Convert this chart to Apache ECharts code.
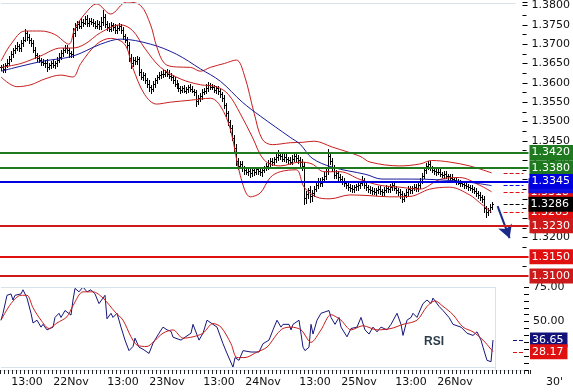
<!DOCTYPE html>
<html><head><meta charset="utf-8">
<script src="https://cdn.jsdelivr.net/npm/echarts@6/dist/echarts.min.js"></script>
<style>html,body{margin:0;padding:0;background:#fff}#c{width:573px;height:392px}</style>
</head><body><div id="c"></div>
<script>
// ---- time axis (30-minute bars) ----
const startDay = 21, startMinute = 390, barMinutes = 30, categoryCount = 265;
const xTickLabels = {'21 13:00':'13:00','22 00:00':'22Nov','22 13:00':'13:00','23 00:00':'23Nov','23 13:00':'13:00','24 00:00':'24Nov','24 13:00':'13:00','25 00:00':'25Nov','25 13:00':'13:00','26 00:00':'26Nov'};
const categories = [];
for (let i = 0; i < categoryCount; i++) {
  const m = startMinute + i * barMinutes;
  const d = startDay + Math.floor(m / 1440), hm = m % 1440;
  categories.push(d + ' ' + String(Math.floor(hm / 60)).padStart(2, '0') + ':' + String(hm % 60).padStart(2, '0'));
}
// ---- price bars: closes in pips above 1.3000 ----
const closePips = [640,636,645,652,662,675,684,690,696,690,702,712,728,718,710,702,685,672,664,660,
654,650,652,642,646,650,646,652,660,668,678,686,690,684,676,674,728,745,752,748,
758,756,764,754,760,758,756,748,752,746,758,770,752,744,740,750,744,736,742,746,
736,722,712,698,664,650,660,656,662,628,616,620,606,598,588,585,596,606,614,620,
624,622,628,624,618,614,608,598,592,586,582,586,580,584,588,585,580,575,552,560,
566,575,580,586,594,590,588,582,586,578,570,560,542,522,498,482,458,432,398,386,
390,380,374,370,372,366,374,370,376,372,368,375,380,385,392,398,395,402,408,414,
410,404,408,404,400,396,404,410,406,400,394,384,302,312,322,306,316,326,336,346,
340,350,360,372,410,398,380,362,366,356,350,346,340,336,330,328,325,330,332,336,
340,348,335,330,325,322,320,318,322,326,320,318,322,328,325,330,335,328,322,318,
312,300,310,318,325,322,328,330,328,335,345,360,375,385,390,380,375,372,368,370,
365,362,365,360,358,355,350,348,345,342,340,338,335,332,330,328,325,320,315,310,
305,300,275,265,272,280,286];
// extra pips reached above / below each bar's body
const wickUp = [6,8,5,10,7,8,5,7,10,5, 8,7,12,5,7,5,8,7,5,7, 5,8,7,10,5,7,8,5,7,8, 7,5,8,7,5,7,14,10,8,7,
10,7,8,12,7,8,7,5,10,8, 12,18,7,8,10,7,5,8,7,8, 7,8,5,7,8,10,7,8,7,5, 8,7,5,7,8,7,8,7,5,8,
7,8,5,7,8,7,5,7,8,7, 5,7,8,5,7,8,7,5,7,8, 7,8,7,10,7,5,8,7,5,7, 7,5,8,7,5,7,8,7,10,8,
7,8,5,7,8,7,5,8,7,5, 7,8,5,7,8,7,8,7,10,12, 8,7,8,7,5,7,8,7,8,7, 8,10,12,8,7,10,8,7,8,7,
8,7,8,7,20,10,8,7,8,7, 7,8,7,5,7,8,7,5,7,8, 7,12,7,8,5,7,8,7,5,7, 7,5,8,7,5,7,8,7,5,7,
7,8,5,7,8,7,5,7,8,7, 8,7,8,7,8,7,5,7,8,7, 7,5,7,8,5,7,8,5,7,5, 7,5,7,5,7,5,7,5,7,5,
7,5,8,7,5,7,5];
const wickDn = [8,7,8,5,7,5,8,7,5,8, 7,8,5,7,8,7,5,8,7,5, 7,5,8,12,7,8,5,7,8,5, 7,8,5,7,8,7,8,7,8,7,
7,8,5,7,8,7,8,7,5,8, 7,8,7,8,5,7,8,7,8,5, 7,8,7,10,8,12,7,8,7,8, 7,8,7,8,10,12,7,8,7,5,
7,8,5,7,5,7,8,7,5,7, 8,7,5,7,8,7,5,7,12,7, 8,7,5,7,8,7,5,7,8,7, 7,8,7,8,7,8,7,8,10,8,
7,8,10,7,8,10,7,8,7,8, 7,8,7,5,7,8,7,5,7,8, 7,5,7,8,7,5,7,5,7,8, 8,10,16,12,10,14,12,8,7,8,
7,8,7,8,7,8,7,8,7,8, 7,8,7,8,7,8,7,8,7,8, 7,5,7,8,7,8,7,5,7,8, 7,8,7,5,7,8,7,5,7,8,
10,8,7,5,7,8,7,5,7,8, 7,5,7,8,7,5,7,8,7,5, 7,5,7,5,7,5,7,5,7,5, 7,5,7,5,7,5,7,5,7,8,
7,8,10,12,8,7,6];
// ---- indicators: [bar index, pips above 1.3000] ----
const bbUpper = [[0,656],[5,700],[12,734],[20,734],[27,725],[34,700],[37,740],[42,778],[48,804],[55,778],[63,809],[70,800],[75,750],[78,695],[82,650],[88,641],[95,640],[100,630],[105,640],[112,650],[118,659],[122,620],[127,520],[131,454],[136,440],[145,445],[151,446],[157,449],[166,434],[180,410],[185,395],[200,385],[210,390],[216,399],[225,395],[235,385],[246,367]];
const bbMiddle = [[0,640],[10,650],[20,670],[30,690],[36,690],[42,700],[50,730],[60,750],[66,735],[72,690],[80,640],[90,610],[100,595],[108,590],[114,570],[120,520],[126,460],[132,400],[140,385],[150,395],[156,390],[162,370],[170,370],[180,350],[190,335],[200,330],[210,325],[220,350],[230,355],[240,335],[246,318]];
const bbLower = [[0,615],[8,590],[15,595],[22,610],[30,620],[36,615],[40,650],[48,700],[55,715],[62,700],[66,640],[72,570],[78,545],[85,550],[95,555],[105,560],[110,540],[115,480],[120,360],[125,305],[130,315],[135,355],[140,370],[148,375],[152,330],[158,305],[165,300],[175,310],[185,308],[195,305],[205,306],[215,325],[225,330],[235,310],[240,290],[246,265]];
const maBlue = [[0,630],[10,643],[21,656],[36,669],[50,700],[60,713],[75,700],[88,674],[100,636],[110,604],[121,550],[130,514],[145,459],[150,441],[156,405],[166,382],[183,363],[191,351],[206,351],[231,345],[246,334]];
// ---- RSI ----
const rsiLine = [[0,51],[1,56],[3,69],[5,70],[6,65.6],[7,69],[10,70],[11,73],[13,67],[15,56],[16,49],[18,51],[20,46],[21,48],[23,44],[26,46],[27,53],[29,56],[30,53],[32,58],[35,54.7],[36,65.6],[37,74],[39,71.5],[41,75],[43,71.5],[45,73],[47,70],[49,63],[51,67],[52,69],[53,52],[55,56],[56,53],[58,56],[60,46],[62,36.6],[64,29],[66,32],[67,38],[69,31.5],[71,30],[74,27],[76,34.4],[79,41.6],[81,46],[83,44],[85,43],[86,38.7],[90,36.6],[92,38.7],[95,41.6],[96,48],[99,36.6],[101,41.6],[103,51],[106,48],[108,46],[111,34],[113,27],[116,17],[117,24],[119,22],[121,29],[125,28],[129,28],[131,34],[134,36.6],[136,44],[138,51],[140,46],[141,48],[144,48],[145,44],[146,48],[149,51],[151,31.5],[152,29],[154,31.5],[155,48],[156,41],[158,51],[160,56],[164,58],[165,53],[167,48],[169,53],[170,46],[173,39],[175,45],[178,46],[180,53],[182,44],[184,41],[186,46],[188,42.6],[190,46],[193,44],[195,48],[198,56],[200,48],[201,40],[203,51],[205,53],[206,56],[208,53],[210,59.8],[211,63],[213,65.6],[215,63],[216,67],[219,61],[221,58],[224,53],[226,48],[230,46],[233,41.6],[236,40],[238,42.6],[240,36.6],[241,31.5],[243,22],[245,21],[246,36.65]];
const rsiSignal = [[0,51],[5,63],[10,69],[13,69],[16,60],[20,51],[24,45],[28,49],[33,53.5],[36,61.5],[41,71.5],[46,71.5],[51,67],[57,57],[61,51],[65,39],[68,33],[73,32],[76,35],[81,41.6],[86,44],[91,38],[96,39],[101,41.6],[106,48.6],[110,46],[115,34],[118,24],[122,24],[128,28],[133,31.5],[138,41],[141,45],[145,46],[150,44],[155,35],[160,44],[165,55],[170,51],[175,44],[181,47],[188,44],[195,45],[201,48],[208,51],[213,61],[217,65],[221,61],[226,55],[231,46],[236,42.6],[241,36.6],[245,30],[246,28.17]];
// ---- levels and value tags ----
const levelValues = [1.3420, 1.3380, 1.3345, 1.3230, 1.3150, 1.3100];
const levelColors = ['#1f7a1f', '#1f7a1f', '#0000e0', '#cc1a1a', '#e01010', '#cc1a1a'];
const tagValues = [1.3367, 1.3318, 1.3265, 1.3334, 1.3286];
const tagColors = ['#cc1a1a', '#e01010', '#e01010', '#1010e0', '#000000'];
const tagShowLabel = [false, true, true, true, true];
const rsiTagValues = [36.65, 28.17];
const rsiTagColors = ['#12127a', '#e01010'];
const arrowFrom = [249, 1.3281], arrowTo = [255, 1.3198];

const P = p => +(1.3 + p / 10000).toFixed(4);
const ohlc = closePips.map((c, i) => {
  const o = i ? closePips[i - 1] : c;
  return [i, P(o), P(c), P(Math.min(o, c) - wickDn[i]), P(Math.max(o, c) + wickUp[i])];
});
const toPrice = arr => arr.map(d => [d[0], P(d[1])]);
const FONT = 'DejaVu Sans';
const lightLine = {color: '#d6e2ec', width: 1, type: 'solid'};
const tagLabel = (txt, bg) => ({show: true, position: 'end', distance: 5, formatter: txt, color: '#fff',
  backgroundColor: bg, padding: [2, 4, 1, 2], fontSize: 11, fontFamily: FONT, lineHeight: 12});

const chart = echarts.init(document.getElementById('c'), null, {renderer: 'canvas'});
chart.setOption({
  animation: false,
  backgroundColor: '#fff',
  grid: [
    {left: 0, top: 2.4, width: 530, height: 273.7},
    {left: 0, top: 287, width: 530, height: 83}
  ],
  xAxis: [
    {type: 'category', gridIndex: 0, data: categories, boundaryGap: true, show: false},
    {type: 'category', gridIndex: 1, data: categories, boundaryGap: true,
      axisLine: {show: true, lineStyle: {color: '#d6e2ec'}},
      axisTick: {show: true, length: 4, interval: i => i % 2 === 0, lineStyle: {color: '#222'}},
      axisLabel: {interval: (i, v) => xTickLabels[v] !== undefined, formatter: v => xTickLabels[v] || '',
        margin: 7, fontSize: 11, fontFamily: FONT, color: '#111'}}
  ],
  yAxis: [
    {type: 'value', gridIndex: 0, position: 'right', offset: -6, min: 1.31, max: 1.3808, interval: 0.005,
      splitLine: {show: false}, axisLine: {show: false},
      axisTick: {show: true, length: 5, lineStyle: {color: '#000'}},
      minorTick: {show: true, splitNumber: 2, length: 4, lineStyle: {color: '#000'}},
      axisLabel: {margin: 9, fontSize: 11, fontFamily: FONT, color: '#111', showMaxLabel: false,
        padding: [3, 0, 0, 0], formatter: v => v.toFixed(4)}},
    {type: 'value', gridIndex: 1, position: 'right', offset: -6, min: 15, max: 75, interval: 5,
      splitLine: {show: false}, axisLine: {show: false},
      axisTick: {show: true, length: 5, lineStyle: {color: '#000'}},
      axisLabel: {margin: 9, fontSize: 11, fontFamily: FONT, color: '#111',
        formatter: v => (v % 25 === 0 ? v.toFixed(2) : '')}}
  ],
  graphic: [
    {type: 'text', left: 424, top: 336, style: {text: 'RSI', font: 'bold 12px "Liberation Sans"', fill: '#2e3c4a'}},
    {type: 'text', left: 546, top: 377, style: {text: "30'", font: '11px "DejaVu Sans"', fill: '#111'}}
  ],
  series: [
    {type: 'custom', name: 'price', xAxisIndex: 0, yAxisIndex: 0, data: ohlc, encode: {x: 0, y: [1, 2, 3, 4]},
      renderItem: (params, api) => {
        const x = api.value(0);
        const o = api.coord([x, api.value(1)]), c = api.coord([x, api.value(2)]);
        const l = api.coord([x, api.value(3)]), h = api.coord([x, api.value(4)]);
        const px = Math.round(o[0]) + 0.5;
        const st = {stroke: '#000', lineWidth: 1};
        return {type: 'group', children: [
          {type: 'line', shape: {x1: px, y1: Math.round(h[1]), x2: px, y2: Math.round(l[1]) + 1}, style: st},
          {type: 'line', shape: {x1: px - 1.5, y1: Math.round(o[1]) + 0.5, x2: px, y2: Math.round(o[1]) + 0.5}, style: st},
          {type: 'line', shape: {x1: px, y1: Math.round(c[1]) + 0.5, x2: px + 1.5, y2: Math.round(c[1]) + 0.5}, style: st}
        ]};
      },
      markLine: {silent: true, symbol: 'none', precision: 4, label: {show: false}, lineStyle: lightLine,
        data: [
          [{coord: [0, 1.3806]}, {coord: [258, 1.3806]}],
          [{coord: [247, 1.3806]}, {coord: [247, 1.3052]}]
        ]}},
    {type: 'line', name: 'bbUpper', data: toPrice(bbUpper), smooth: 0.35, symbol: 'none',
      lineStyle: {color: '#c81e1e', width: 1}, z: 3},
    {type: 'line', name: 'bbMiddle', data: toPrice(bbMiddle), smooth: 0.35, symbol: 'none',
      lineStyle: {color: '#c81e1e', width: 1}, z: 3,
      markLine: {silent: true, symbol: 'none', precision: 4,
        data: tagValues.map((v, k) => [
          {coord: [252, v], lineStyle: {color: tagColors[k], width: 1},
            label: tagShowLabel[k] ? tagLabel(v.toFixed(4), tagColors[k]) : {show: false}},
          {coord: [262, v]}])}},
    {type: 'line', name: 'bbLower', data: toPrice(bbLower), smooth: 0.35, symbol: 'none',
      lineStyle: {color: '#c81e1e', width: 1}, z: 3,
      markLine: {silent: true, symbol: ['none', 'arrow'], symbolSize: [11, 13], precision: 4, label: {show: false},
        lineStyle: {color: '#1a2a8a', width: 2, type: 'solid', curveness: -0.15},
        data: [[{coord: arrowFrom}, {coord: arrowTo}]]}},
    {type: 'line', name: 'ma', data: toPrice(maBlue), smooth: 0.35, symbol: 'none',
      lineStyle: {color: '#1a1a9a', width: 1}, z: 4,
      markLine: {silent: true, symbol: 'none', z: 10, precision: 4,
        data: levelValues.map((v, k) => ({yAxis: v, lineStyle: {color: levelColors[k], width: 2, type: 'solid'},
          label: Object.assign(tagLabel(v.toFixed(4), levelColors[k]), {distance: 1})}))}},
    {type: 'line', name: 'rsi', xAxisIndex: 1, yAxisIndex: 1, data: rsiLine, symbol: 'none',
      lineStyle: {color: '#16167a', width: 1},
      markLine: {silent: true, symbol: 'none', precision: 2, label: {show: false}, lineStyle: lightLine,
        data: [
          [{coord: [0, 75]}, {coord: [247, 75]}],
          [{coord: [0, 17.2]}, {coord: [247, 17.2]}],
          [{coord: [247, 75]}, {coord: [247, 15]}]
        ]}},
    {type: 'line', name: 'rsiSignal', xAxisIndex: 1, yAxisIndex: 1, data: rsiSignal, smooth: 0.3, symbol: 'none',
      lineStyle: {color: '#c81e1e', width: 1},
      markLine: {silent: true, symbol: 'none', precision: 2,
        data: rsiTagValues.map((v, k) => [
          {coord: [256, v], lineStyle: {color: rsiTagColors[k], width: 1},
            label: tagLabel(v.toFixed(2), rsiTagColors[k])},
          {coord: [262, v]}])}}
  ]
});
</script></body></html>
